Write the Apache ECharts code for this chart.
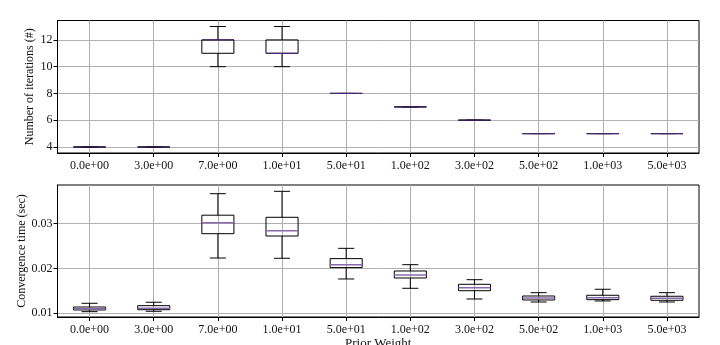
<!DOCTYPE html>
<html><head><meta charset="utf-8">
<script src="https://cdn.jsdelivr.net/npm/echarts@6/dist/echarts.min.js"></script>
<style>html,body{margin:0;padding:0;background:#fff}#c{width:720px;height:345px}</style>
</head><body><div id="c"></div>
<script>
const categories = ['0.0e+00','3.0e+00','7.0e+00','1.0e+01','5.0e+01','1.0e+02','3.0e+02','5.0e+02','1.0e+03','5.0e+03'];
// Number of iterations: whisker low, q1, median, q3, whisker high
const iterLow  = [4, 4, 10, 10, 8, 7, 6, 5, 5, 5];
const iterQ1   = [4, 4, 11, 11, 8, 7, 6, 5, 5, 5];
const iterMed  = [4, 4, 12, 11, 8, 7, 6, 5, 5, 5];
const iterQ3   = [4, 4, 12, 12, 8, 7, 6, 5, 5, 5];
const iterHigh = [4, 4, 13, 13, 8, 7, 6, 5, 5, 5];
// Convergence time (sec)
const timeLow  = [0.01036, 0.01045, 0.02234, 0.02228, 0.01766, 0.01558, 0.01319, 0.01252, 0.01275, 0.01252];
const timeQ1   = [0.01074, 0.01080, 0.02777, 0.02725, 0.02020, 0.01788, 0.01504, 0.01297, 0.01304, 0.01290];
const timeMed  = [0.01100, 0.01110, 0.03020, 0.02844, 0.02085, 0.01855, 0.01571, 0.01341, 0.01348, 0.01335];
const timeQ3   = [0.01140, 0.01170, 0.03190, 0.03143, 0.02220, 0.01944, 0.01647, 0.01386, 0.01402, 0.01380];
const timeHigh = [0.01223, 0.01246, 0.03670, 0.03723, 0.02450, 0.02085, 0.01750, 0.01460, 0.01536, 0.01460];
const iterTicks = [4, 6, 8, 10, 12];
const timeTicks = [0.01, 0.02, 0.03];
const iterRange = [3.55, 13.45];
const timeRange = [0.00917, 0.03864];

const FONT = '"Liberation Serif", "DejaVu Serif", serif';
const xIdx = categories.map((c, i) => i);

function rows(lo, q1, md, q3, hi) {
  return xIdx.map(i => [i, lo[i], q1[i], md[i], q3[i], hi[i]]);
}
function makeRender(medColor, medWidth) {
  return function (params, api) {
    const x = api.value(0);
    const lo = api.coord([x, api.value(1)]);
    const q1 = api.coord([x, api.value(2)]);
    const md = api.coord([x, api.value(3)]);
    const q3 = api.coord([x, api.value(4)]);
    const hi = api.coord([x, api.value(5)]);
    const bw = api.size([1, 0])[0] * 0.5;
    const cw = bw * 0.5;
    const cx = lo[0];
    const st = { stroke: '#000', lineWidth: 1, fill: null };
    return {
      type: 'group', children: [
        { type: 'line', shape: { x1: cx, y1: q1[1], x2: cx, y2: lo[1] }, style: st },
        { type: 'line', shape: { x1: cx, y1: q3[1], x2: cx, y2: hi[1] }, style: st },
        { type: 'line', shape: { x1: cx - cw / 2, y1: lo[1], x2: cx + cw / 2, y2: lo[1] }, style: st },
        { type: 'line', shape: { x1: cx - cw / 2, y1: hi[1], x2: cx + cw / 2, y2: hi[1] }, style: st },
        { type: 'rect', shape: { x: cx - bw / 2, y: q3[1], width: bw, height: q1[1] - q3[1] }, style: { stroke: '#000', lineWidth: 1, fill: 'rgba(255,255,255,0)' } },
        { type: 'line', shape: { x1: cx - bw / 2, y1: md[1], x2: cx + bw / 2, y2: md[1] }, style: { stroke: medColor, lineWidth: medWidth } }
      ]
    };
  };
}
function xAxis(gi, name) {
  return {
    type: 'value', gridIndex: gi, min: -0.5, max: 9.5,
    name: name, nameLocation: 'middle', nameGap: 20, nameMoveOverlap: false,
    nameTextStyle: { fontFamily: FONT, fontSize: 13, color: '#111' },
    axisLine: { show: true, onZero: false, lineStyle: { color: '#000', width: 1 } },
    axisTick: { show: true, length: 4, inside: false, customValues: xIdx, lineStyle: { color: '#000' } },
    axisLabel: { customValues: xIdx, formatter: v => categories[Math.round(v)], fontFamily: FONT, fontSize: 12, color: '#111', margin: 7 },
    splitLine: { show: true, lineStyle: { color: '#b0b0b0', width: 1 } }
  };
}
function yAxis(gi, name, range, ticks, gap) {
  return {
    type: 'value', gridIndex: gi, min: range[0], max: range[1],
    name: name, nameLocation: 'middle', nameGap: gap, nameMoveOverlap: false,
    nameTextStyle: { fontFamily: FONT, fontSize: 12, color: '#111' },
    axisLine: { show: true, onZero: false, lineStyle: { color: '#000', width: 1 } },
    axisTick: { show: true, length: 4, inside: false, customValues: ticks, lineStyle: { color: '#000' } },
    axisLabel: { customValues: ticks, fontFamily: FONT, fontSize: 12, color: '#111', margin: 5 },
    splitLine: { show: true, lineStyle: { color: '#b0b0b0', width: 1 } }
  };
}
const chart = echarts.init(document.getElementById('c'), null, { renderer: 'canvas' });
chart.setOption({
  animation: false,
  backgroundColor: '#fff',
  grid: [
    { left: 57.5, right: 21, top: 20.5, height: 132.5, show: true, borderColor: '#000', borderWidth: 1, backgroundColor: 'transparent', containLabel: false, outerBoundsMode: 'none' },
    { left: 57.5, right: 21, top: 185, height: 132, show: true, borderColor: '#000', borderWidth: 1, backgroundColor: 'transparent', containLabel: false, outerBoundsMode: 'none' }
  ],
  xAxis: [xAxis(0, ''), xAxis(1, 'Prior Weight')],
  yAxis: [
    yAxis(0, 'Number of iterations (#)', iterRange, iterTicks, 21.5),
    yAxis(1, 'Convergence time (sec)', timeRange, timeTicks, 29.5)
  ],
  series: [
    { type: 'custom', xAxisIndex: 0, yAxisIndex: 0, renderItem: makeRender('#4b2570', 1.2), data: rows(iterLow, iterQ1, iterMed, iterQ3, iterHigh), encode: { x: 0, y: [1, 2, 3, 4, 5] }, clip: true },
    { type: 'custom', xAxisIndex: 1, yAxisIndex: 1, renderItem: makeRender('#8c68b0', 1.5), data: rows(timeLow, timeQ1, timeMed, timeQ3, timeHigh), encode: { x: 0, y: [1, 2, 3, 4, 5] }, clip: true }
  ]
});
</script></body></html>
